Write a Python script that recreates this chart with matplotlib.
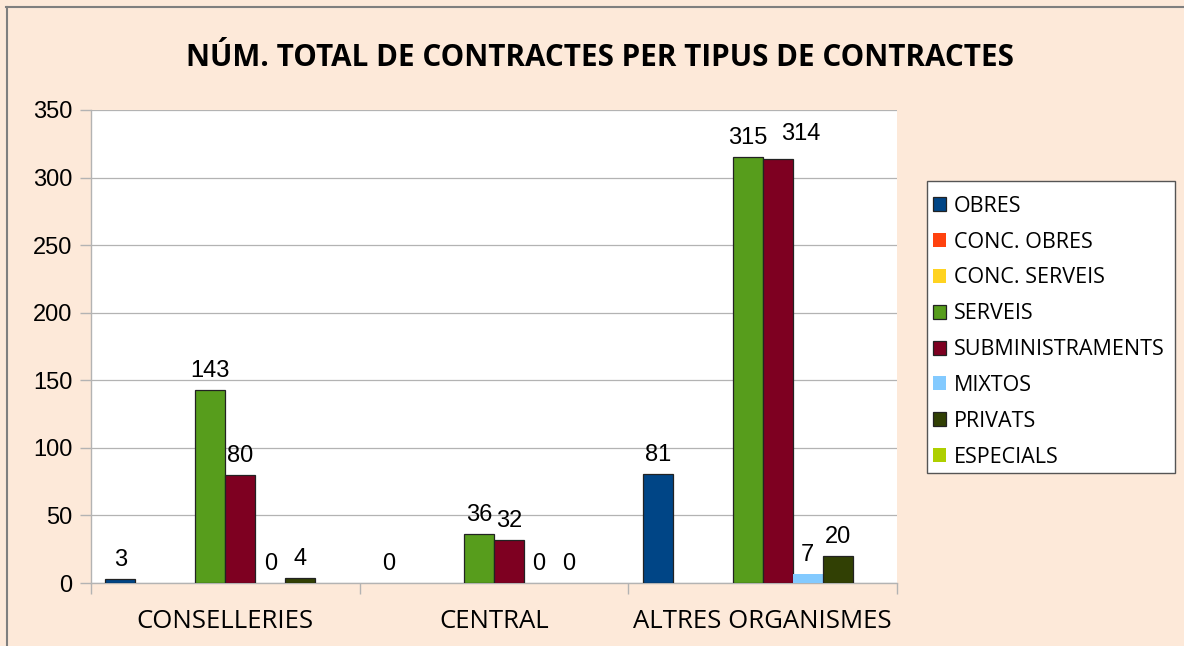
import matplotlib
matplotlib.use("Agg")
import matplotlib.pyplot as plt
from matplotlib.lines import Line2D
from matplotlib.patches import Rectangle
import numpy as np

categories = ["CONSELLERIES", "CENTRAL", "ALTRES ORGANISMES"]
series_names = ["OBRES", "CONC. OBRES", "CONC. SERVEIS", "SERVEIS",
                "SUBMINISTRAMENTS", "MIXTOS", "PRIVATS", "ESPECIALS"]
obres = [3, 0, 81]
conc_obres = [None, None, None]
conc_serveis = [None, None, None]
serveis = [143, 36, 315]
subministraments = [80, 32, 314]
mixtos = [0, 0, 7]
privats = [4, 0, 20]
especials = [None, None, None]
series_values = [obres, conc_obres, conc_serveis, serveis,
                 subministraments, mixtos, privats, especials]
colors = ["#004586", "#FF420E", "#FFD320", "#579D1C",
          "#7E0021", "#83CAFF", "#314004", "#AECF00"]
edged = [True, False, False, True, True, False, True, False]
yticks = [0, 50, 100, 150, 200, 250, 300, 350]

W, H = 1184, 646
fig = plt.figure(figsize=(W / 100, H / 100), dpi=100)
bg = "#FDE9D9"
fig.patch.set_facecolor(bg)
# frame lines (top and left only visible in the crop)
fig.add_artist(Line2D([6 / W, 1.0], [1 - 6.5 / H, 1 - 6.5 / H], transform=fig.transFigure,
                      color="#7f7f7f", linewidth=1.5))
fig.add_artist(Line2D([6.5 / W, 6.5 / W], [0, 1 - 6.5 / H], transform=fig.transFigure,
                      color="#7f7f7f", linewidth=1.5))

ax = fig.add_axes([91 / W, 1 - 583 / H, (897 - 91) / W, (583 - 110) / H])
ax.set_facecolor("white")

n = len(series_names)
x = np.arange(len(categories))
bw = 30 / 269
# label nudges (pixels) where the reference moved a label to avoid a clash
label_nudge = {(4, 2): (23, 6)}
handles = []
for i, (name, vals, c, e) in enumerate(zip(series_names, series_values, colors, edged)):
    xs = x + (i - (n - 1) / 2) * bw
    hv = [v if (v is not None and v > 0) else np.nan for v in vals]
    b = ax.bar(xs, hv, width=bw, color=c, edgecolor="#222222" if e else c,
               linewidth=0.9 if e else 0, label=name, zorder=3)
    handles.append(b)
    for j, (xi, v) in enumerate(zip(xs, vals)):
        if v is None:
            continue
        dx, dy = label_nudge.get((i, j), (0, 0))
        ax.annotate(str(v), (xi, v), xytext=(dx * 0.72, (8 + dy) * 0.72),
                    textcoords="offset points",
                    ha="center", va="bottom", fontsize=17,
                    family="Liberation Sans", color="black", zorder=4)

ax.set_xlim(-0.5, len(categories) - 0.5)
ax.set_ylim(0, 350)
ax.set_yticks(yticks)
ax.set_yticklabels([str(t) for t in yticks], family="Liberation Sans", fontsize=17)
ax.yaxis.grid(True, color="#b3b3b3", linewidth=0.9, zorder=0)
ax.set_axisbelow(True)
ax.tick_params(axis="y", length=8, color="#b3b3b3", width=1, pad=5.5)
ax.set_xticks(x)
ax.set_xticklabels(categories, family="Open Sans", fontsize=18.5)
ax.tick_params(axis="x", length=0, pad=19)
ax.set_xticks(np.arange(len(categories) + 1) - 0.5, minor=True)
ax.tick_params(axis="x", which="minor", length=8, color="#b3b3b3", width=1)
for s in ["top", "right"]:
    ax.spines[s].set_visible(False)
for s in ["left", "bottom"]:
    ax.spines[s].set_color("#b3b3b3")
    ax.spines[s].set_linewidth(1.0)

fig.text(600 / W, 1 - 58 / H, "NÚM. TOTAL DE CONTRACTES PER TIPUS DE CONTRACTES",
         ha="center", va="center", fontsize=21.3, fontweight="bold", family="Open Sans")

# legend box drawn separately, entries placed inside
fig.add_artist(Rectangle((926.5 / W, 1 - 473 / H), (1175 - 926.5) / W, (473 - 181) / H,
                         transform=fig.transFigure, facecolor="white",
                         edgecolor="#555555", linewidth=1.0, zorder=1))
leg = fig.legend(handles=handles, labels=series_names, loc="upper left",
                 bbox_to_anchor=(923 / W, 1 - 186 / H),
                 frameon=False, prop={"family": "Open Sans", "size": 15.5},
                 handlelength=0.62, handleheight=0.62, handletextpad=0.38,
                 labelspacing=0.69, borderpad=0.45, borderaxespad=0)
leg.set_zorder(2)

fig.savefig("out.png", dpi=100, facecolor=bg)
